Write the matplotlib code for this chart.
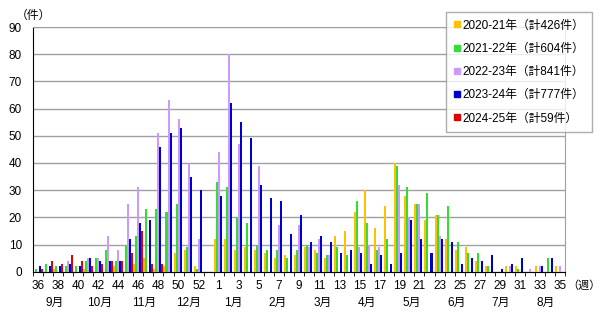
import numpy as np
import matplotlib
matplotlib.use("Agg")
import matplotlib.pyplot as plt
import matplotlib.transforms as mtransforms
from matplotlib.lines import Line2D

plt.rcParams['font.family'] = ['Liberation Sans', 'Noto Sans CJK JP']

# 週番号（36週〜翌年35週、2020-21は53週あり）
weeks = list(range(36, 54)) + list(range(1, 36))
months = ['9月', '10月', '11月', '12月', '1月', '2月', '3月', '4月', '5月', '6月', '7月', '8月']

labels = ['2020-21年（計426件）', '2021-22年（計604件）', '2022-23年（計841件）',
          '2023-24年（計777件）', '2024-25年（計59件）']

s2020 = [0, 0, 1, 0, 0, 1, 0, 0, 2, 0, 3, 5, 1, 2, 7, 8, 2, 0,
         12, 12, 8, 9, 8, 7, 5, 6, 6, 9,
         8, 5, 13, 15, 22, 30, 16, 24, 40, 28,
         25, 19, 21, 12, 8, 9, 4, 2, 0, 2,
         2, 0, 2, 0, 2]
s2021 = [1, 3, 2, 2, 2, 4, 5, 8, 4, 10, 13, 23, 23, 22, 25, 9, 1, 0,
         33, 31, 20, 18, 10, 8, 8, 5, 8, 10,
         7, 6, 9, 6, 26, 18, 8, 12, 39, 31,
         25, 29, 21, 24, 11, 7, 7, 2, 0, 0,
         1, 0, 0, 5, 0]
s2022 = [0, 0, 0, 4, 0, 5, 5, 13, 8, 25, 31, 0, 51, 63, 56, 40, 12, 0,
         44, 80, 47, 0, 39, 0, 17, 0, 17, 9,
         12, 6, 0, 0, 9, 10, 9, 0, 32, 20,
         25, 0, 13, 0, 0, 0, 0, 0, 0, 2,
         0, 1, 2, 0, 2]
s2023 = [2, 2, 2, 3, 2, 5, 4, 4, 4, 12, 18, 19, 46, 51, 53, 35, 30, 0,
         28, 62, 55, 49, 32, 27, 26, 14, 21, 11,
         13, 11, 7, 8, 7, 3, 6, 3, 7, 19,
         12, 7, 12, 11, 3, 5, 4, 6, 1, 3,
         5, 0, 2, 5, 0]
s2024 = [1, 4, 3, 6, 4, 2, 3, 4, 4, 7, 15, 3, 3]

series = [s2020, s2021, s2022, s2023, s2024]
colors = ['#FFC000', '#33DD33', '#CC99FF', '#0000CC', '#E00000']

fig = plt.figure(figsize=(6, 3.14), dpi=100)
ax = fig.add_axes([33 / 600, 1 - 271.7 / 314, 532 / 600, 244.7 / 314])

x = np.arange(len(weeks))
bw = 0.2
for j, (vals, c) in enumerate(zip(series, colors)):
    ax.bar(x[:len(vals)] + (j - 2) * bw, vals, width=bw, color=c, linewidth=0, zorder=3)

ax.set_xlim(-0.5, len(weeks) - 0.5)
ax.set_ylim(0, 90)
ax.set_yticks(range(0, 91, 10))
ax.yaxis.grid(True, color='#A0A0A0', linewidth=1, zorder=0)
ax.set_axisbelow(True)

ax.set_xticks(x[::2])
ax.set_xticklabels([str(weeks[i]) for i in x[::2]])
ax.set_xticks(np.arange(-0.5, len(weeks), 1), minor=True)
ax.tick_params(axis='x', which='major', length=0, pad=6, labelsize=8.5)
ax.tick_params(axis='x', which='minor', length=3, color='black')
ax.tick_params(axis='y', length=0, pad=8, labelsize=8.5)

for s in ['top', 'right']:
    ax.spines[s].set_color('#A0A0A0')
for s in ['left', 'bottom']:
    ax.spines[s].set_color('black')

trans = mtransforms.blended_transform_factory(ax.transData, ax.transAxes)
for i, m in enumerate(months):
    ax.text(1.7 + 4.44 * i, -0.128, m, transform=trans, ha='center', va='center', fontsize=8.5)

fig.text(33 / 600, 1 - 16 / 314, '（件）', ha='center', va='center', fontsize=8.5)
ax.text(1.005, -0.057, '（週）', transform=ax.transAxes, ha='left', va='center', fontsize=8)

handles = [Line2D([], [], linestyle='none', marker='s', markersize=4.5,
                  markerfacecolor=c, markeredgecolor=c) for c in colors]
leg = fig.legend(handles, labels, loc='upper right', bbox_to_anchor=(0.987, 0.962),
                 fontsize=8.5, frameon=True, fancybox=False, edgecolor='#999999',
                 handlelength=0.6, handletextpad=0.2, labelspacing=0.95,
                 borderpad=0.65, borderaxespad=0)
leg.get_frame().set_linewidth(1)

fig.savefig('out.png', dpi=100)
